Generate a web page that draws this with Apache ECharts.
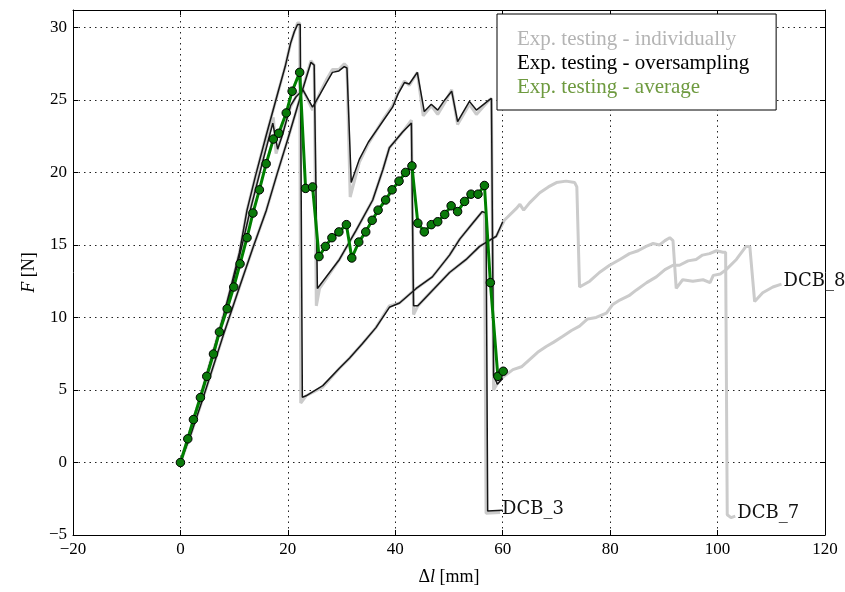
<!DOCTYPE html>
<html><head><meta charset="utf-8">
<script src="https://cdn.jsdelivr.net/npm/echarts@6/dist/echarts.min.js"></script>
<style>html,body{margin:0;padding:0;background:#fff}#c{width:845px;height:592px}</style>
</head><body><div id="c"></div>
<script>
// ---- data ----
const curveNames = ['DCB_3', 'DCB_7', 'DCB_8'];
const legendNames = ['Exp. testing - individually', 'Exp. testing - oversampling', 'Exp. testing - average'];
const xRange = [-20, 120, 20];
const yRange = [-5, 31.2, 5];

// individual curves (grey)
const dcb3Ind = [[0,0],[2,2.4],[4,4.9],[6,7.5],[8,10.1],[9.4,12.1],[11,14.5],[12.4,17.4],[14,19.8],[16,22.6],[18,25.3],[19.5,27.3],[20.5,28.9],[21.2,29.7],[21.8,30.3],[22.2,30.3],[22.4,4.1],[23.4,4.6],[26.5,5.2],[29.6,6.5],[31.5,7.2],[33.9,8.2],[36.4,9.3],[38.9,10.8],[40.8,11.0],[43.9,12.0],[46.9,12.8],[50.1,14.3],[52,15.4],[54.4,16.5],[56.2,17.3],[56.6,17.1],[56.9,-3.5],[59.5,-3.45]];
const dcb7Ind = [[0,0],[2,2.4],[4,4.9],[6,7.4],[8,9.9],[9.6,12.1],[11.3,14.7],[13,17.4],[15,20.4],[17.3,23.8],[17.8,21.3],[19,22.7],[20.5,24.5],[21.6,25.3],[22.7,25.8],[24.6,24.3],[26,25.5],[27.2,26.4],[28.3,27.1],[29.5,27.1],[30.5,27.5],[31.0,27.3],[31.6,18.3],[33.3,20.7],[35,22.0],[36.5,22.9],[38,23.8],[39.5,24.6],[40.5,25.5],[41.7,26.3],[42.6,26.0],[44.1,26.9],[45.2,23.9],[46.7,24.6],[47.9,24.0],[49.2,24.8],[50.5,25.7],[51.6,23.3],[53.8,24.7],[55.1,24.0],[57.5,25.0],[57.9,25.1],[58.3,5.0],[59.4,5.7],[61.9,6.4],[63.5,6.6],[65,7.1],[66.5,7.6],[68.1,8.0],[69.5,8.3],[71.2,8.7],[72.8,9.1],[74.3,9.4],[75.8,9.9],[77.4,10.0],[79.3,10.3],[80.5,10.9],[81.8,11.2],[83.5,11.5],[84.9,11.9],[86.8,12.4],[88.6,12.8],[90.2,13.3],[91.7,13.6],[92.9,13.6],[94.5,13.9],[96,14.0],[97.2,14.3],[98.5,14.4],[99.8,14.6],[101,14.5],[101.5,14.5],[101.8,-3.6],[102.5,-3.8],[103.3,-3.7]];
const dcb8Ind = [[0,0],[2,2.0],[4,4.2],[6,6.5],[8,8.8],[11,12.1],[13.5,14.8],[16,17.4],[18,19.9],[20,22.3],[22,24.8],[24.3,27.7],[24.9,27.4],[25.3,10.8],[25.9,12.0],[29.6,14.0],[32.7,16.0],[35.8,18.1],[37.7,20.2],[38.9,21.7],[41.4,22.8],[43.0,23.6],[43.4,10.2],[44.2,10.8],[47,11.9],[50.1,13.1],[53.2,14.0],[55.7,14.9],[58.8,15.6],[60.3,16.7],[62.5,17.5],[63.2,17.8],[63.9,17.4],[65,17.9],[66.9,18.6],[68.5,19.0],[70,19.3],[71.8,19.4],[73.4,19.3],[73.8,19.0],[74.3,12.1],[76.2,12.5],[78,13.1],[79.9,13.6],[81.8,14.0],[83.6,14.4],[85.2,14.6],[86.7,14.9],[88,15.1],[89.2,15.0],[90.2,15.3],[91.1,15.5],[91.7,15.3],[92.3,12.0],[93.5,12.6],[95.4,12.5],[97.3,12.6],[98.6,12.4],[99.2,12.9],[100.5,13.0],[101.6,13.3],[103.5,14.0],[105.3,14.9],[106,14.9],[106.9,11.1],[108.4,11.7],[110.3,12.1],[111.9,12.3]];

// oversampled curves (black)
const dcb3Over = [[0,0],[2,2.4],[4,4.9],[6,7.5],[8,10.1],[9.4,12.1],[11,14.5],[12.4,17.4],[14,19.8],[16,22.6],[18,25.3],[19.5,27.3],[20.5,28.9],[21.2,29.7],[21.8,30.2],[22.3,30.2],[22.7,4.5],[23.4,4.6],[26.5,5.3],[29.6,6.5],[31.5,7.2],[33.9,8.2],[36.4,9.3],[38.9,10.7],[40.8,11.0],[43.9,12.0],[46.9,12.8],[50.1,14.3],[52,15.4],[54.4,16.5],[56.2,17.3],[56.9,17.2],[57.2,-3.35],[60,-3.3]];
const dcb7Over = [[0,0],[2,2.4],[4,4.9],[6,7.4],[8,9.9],[9.6,12.1],[11.3,14.7],[13,17.4],[15,20.3],[17.2,23.4],[18.1,21.6],[19,22.6],[20.5,24.6],[21.5,25.2],[22.8,25.7],[24.6,24.5],[26,25.4],[27.2,26.2],[28.3,26.9],[29.5,27.0],[30.5,27.3],[31.0,27.2],[31.8,19.3],[33.3,20.9],[35,22.1],[36.5,22.9],[38,23.7],[39.5,24.5],[40.5,25.4],[41.7,26.2],[42.6,26.1],[44.1,26.9],[45.4,24.2],[46.7,24.7],[47.9,24.3],[49.2,25.0],[50.5,25.6],[51.6,23.5],[53.8,24.9],[55.1,24.3],[57.5,25.0],[57.9,25.1],[58.3,6.0],[59.0,5.4],[60,5.8]];
const dcb8Over = [[0,0],[2,2.0],[4,4.2],[6,6.5],[8,8.8],[11,12.1],[13.5,14.8],[16,17.4],[18,19.9],[20,22.3],[22,24.8],[24.3,27.6],[24.9,27.4],[25.5,12.0],[29.6,14.0],[32.7,16.0],[35.8,18.1],[37.7,20.2],[38.9,21.7],[41.4,22.8],[43.0,23.4],[43.4,10.8],[44.2,10.8],[47,11.9],[50.1,13.1],[53.2,14.0],[55.7,14.9],[58.8,15.6],[60,16.6]];

// average (green with markers)
const averageCurve = [[0,0],[1.37,1.63],[2.42,2.96],[3.72,4.48],[4.9,5.94],[6.15,7.48],[7.26,9.0],[8.7,10.6],[9.93,12.1],[11.1,13.7],[12.4,15.5],[13.5,17.2],[14.7,18.8],[15.96,20.6],[17.3,22.3],[18.3,22.7],[19.7,24.1],[20.8,25.6],[22.2,26.9],[23.3,18.9],[24.6,19.0],[25.8,14.2],[27.0,14.9],[28.2,15.5],[29.5,15.9],[30.9,16.4],[31.9,14.1],[33.2,15.2],[34.5,15.9],[35.7,16.7],[36.8,17.4],[38.2,18.1],[39.4,18.8],[40.7,19.4],[41.9,20.0],[43.1,20.45],[44.2,16.5],[45.4,15.9],[46.7,16.4],[47.9,16.6],[49.2,17.1],[50.4,17.7],[51.6,17.3],[52.9,18.0],[54.1,18.5],[55.4,18.5],[56.6,19.1],[57.7,12.4],[59.1,5.94],[60.1,6.29]];

// ---- chart ----
const serif = 'Liberation Serif';
const minus = v => String(v).replace('-', '\u2212');
const grey = '#cbcbcb', black = '#161616', green = '#008000';

function indSeries(data, label) {
  return {
    name: legendNames[0], type: 'line', data: data, showSymbol: false, symbol: 'none',
    lineStyle: {color: grey, width: 3}, itemStyle: {color: grey}, z: 1,
    endLabel: {show: true, formatter: label, distance: 2, fontFamily: 'DejaVu Serif', fontSize: 18, color: '#111', offset: [0, -3]},
    emphasis: {disabled: true}
  };
}
function overSeries(data) {
  return {
    name: legendNames[1], type: 'line', data: data, showSymbol: false, symbol: 'none',
    lineStyle: {color: black, width: 1.5}, itemStyle: {color: black}, z: 2, emphasis: {disabled: true}
  };
}

const split = {show: true, lineStyle: {color: '#222', type: [1.5, 4], width: 1}};
const axisBase = {
  axisLine: {show: true, onZero: false, lineStyle: {color: '#000', width: 1}},
  axisTick: {show: true, inside: true, length: 5, lineStyle: {color: '#000'}}
};

const option = {
  animation: false,
  backgroundColor: '#fff',
  grid: {left: 73, right: 20, top: 10, bottom: 57},
  legend: {
    orient: 'vertical', left: 497, top: 14, icon: 'none', itemWidth: 0, itemHeight: 10, itemGap: 0,
    padding: [13, 27, 11, 15], backgroundColor: '#fff', borderColor: '#000', borderWidth: 1,
    textStyle: {fontFamily: serif, fontSize: 21, lineHeight: 24},
    selectedMode: false, z: 10,
    data: [
      {name: legendNames[0], textStyle: {color: '#b4b4b4'}},
      {name: legendNames[1], textStyle: {color: '#000'}},
      {name: legendNames[2], textStyle: {color: '#6e9a3f'}}
    ]
  },
  xAxis: [
    Object.assign({}, axisBase, {
      type: 'value', position: 'bottom', min: xRange[0], max: xRange[1], interval: xRange[2],
      splitLine: split,
      axisLabel: {formatter: minus, fontFamily: serif, fontSize: 17, color: '#000', margin: 6},
      name: '{d|\u0394}{i|l} [mm]', nameLocation: 'middle', nameGap: 33,
      nameTextStyle: {fontFamily: serif, fontSize: 18, color: '#000',
        rich: {i: {fontFamily: serif, fontStyle: 'italic', fontSize: 18, color: '#000'}, d: {fontFamily: serif, fontSize: 18, color: '#000'}}}
    }),
    Object.assign({}, axisBase, {
      type: 'value', position: 'top', min: xRange[0], max: xRange[1], interval: xRange[2],
      splitLine: {show: false}, axisLabel: {show: false}
    })
  ],
  yAxis: [
    Object.assign({}, axisBase, {
      type: 'value', position: 'left', min: yRange[0], max: yRange[1], interval: yRange[2],
      splitLine: split,
      axisLabel: {formatter: minus, fontFamily: serif, fontSize: 17, color: '#000', margin: 6, showMaxLabel: false},
      name: '{i|F} [N]', nameLocation: 'middle', nameGap: 35,
      nameTextStyle: {fontFamily: serif, fontSize: 18, color: '#000',
        rich: {i: {fontFamily: serif, fontStyle: 'italic', fontSize: 18, color: '#000'}}}
    }),
    Object.assign({}, axisBase, {
      type: 'value', position: 'right', min: yRange[0], max: yRange[1], interval: yRange[2],
      splitLine: {show: false}, axisLabel: {show: false}
    })
  ],
  series: [
    indSeries(dcb3Ind, curveNames[0]),
    indSeries(dcb7Ind, curveNames[1]),
    indSeries(dcb8Ind, curveNames[2]),
    overSeries(dcb3Over),
    overSeries(dcb7Over),
    overSeries(dcb8Over),
    {
      name: legendNames[2], type: 'line', data: averageCurve, symbol: 'circle', symbolSize: 8.5, showAllSymbol: true,
      lineStyle: {color: green, width: 3}, itemStyle: {color: '#0a7a0a', borderColor: '#000', borderWidth: 1},
      z: 3, emphasis: {disabled: true}
    }
  ]
};

const chart = echarts.init(document.getElementById('c'), null, {renderer: 'canvas'});
chart.setOption(option);
</script>
</body></html>
